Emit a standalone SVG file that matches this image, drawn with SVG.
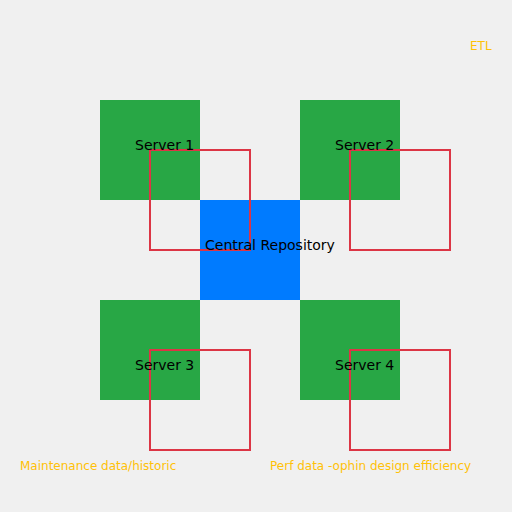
<svg xmlns="http://www.w3.org/2000/svg" width="512" height="512" viewBox="0 0 512 512">
<style>
.srv{fill:#28a745}
.hub{fill:#007bff}
.box{fill:none;stroke:#dc3545;stroke-width:2}
.lbl{font-family:"DejaVu Sans",sans-serif;font-size:14px;fill:#000}
.note{font-family:"DejaVu Sans",sans-serif;font-size:12px;fill:#ffc107}
</style>
<rect width="512" height="512" fill="#f0f0f0"/>
<g id="server1"><rect class="srv" x="100" y="100" width="100" height="100"/></g>
<g id="server2"><rect class="srv" x="300" y="100" width="100" height="100"/></g>
<g id="server3"><rect class="srv" x="100" y="300" width="100" height="100"/></g>
<g id="server4"><rect class="srv" x="300" y="300" width="100" height="100"/></g>
<g id="central"><rect class="hub" x="200" y="200" width="100" height="100"/></g>
<g id="connectors">
<rect class="box" x="150" y="150" width="100" height="100"/>
<rect class="box" x="350" y="150" width="100" height="100"/>
<rect class="box" x="150" y="350" width="100" height="100"/>
<rect class="box" x="350" y="350" width="100" height="100"/>
</g>
<g id="labels">
<text class="lbl" x="135" y="150">Server 1</text>
<text class="lbl" x="335" y="150">Server 2</text>
<text class="lbl" x="135" y="370">Server 3</text>
<text class="lbl" x="335" y="370">Server 4</text>
<text class="lbl" x="205" y="250">Central Repository</text>
<text class="note" x="470" y="50">ETL</text>
<text class="note" x="20" y="470">Maintenance data/historic</text>
<text class="note" x="270" y="470">Perf data -ophin design efficiency</text>
</g>
</svg>
